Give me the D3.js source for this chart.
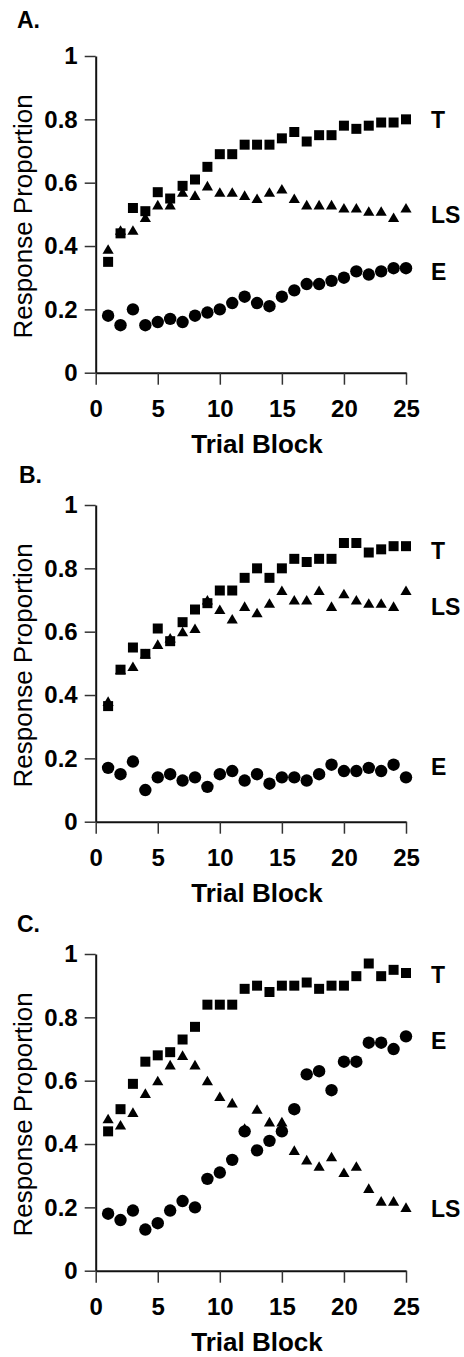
<!DOCTYPE html>
<html>
<head>
<meta charset="utf-8">
<title>Response Proportion by Trial Block</title>
<script src="https://d3js.org/d3.v7.min.js"></script>
<style>
  body { margin: 0; background: #fff; }
  svg { display: block; font-family: "Liberation Sans", Arial, sans-serif; }
</style>
</head>
<body>
<svg width="464" height="1357"></svg>
<script>
// data
const trialBlock = [1,2,3,4,5,6,7,8,9,10,11,12,13,14,15,16,17,18,19,20,21,22,23,24,25];
const xTicks = [0, 5, 10, 15, 20, 25];
const yTicks = [0, 0.2, 0.4, 0.6, 0.8, 1];
const seriesNames = ["T", "LS", "E"];
const panelNames = ["A.", "B.", "C."];

// panel A
const tA  = [0.35,0.44,0.52,0.51,0.57,0.55,0.59,0.61,0.65,0.69,0.69,0.72,0.72,0.72,0.74,0.76,0.73,0.75,0.75,0.78,0.77,0.78,0.79,0.79,0.80];
const lsA = [0.39,0.45,0.45,0.49,0.53,0.53,0.57,0.56,0.59,0.57,0.57,0.56,0.55,0.57,0.58,0.55,0.53,0.53,0.53,0.52,0.52,0.51,0.51,0.49,0.52];
const eA  = [0.18,0.15,0.20,0.15,0.16,0.17,0.16,0.18,0.19,0.20,0.22,0.24,0.22,0.21,0.24,0.26,0.28,0.28,0.29,0.30,0.32,0.31,0.32,0.33,0.33];
const labelPosA = [0.80, 0.50, 0.32];

// panel B
const tB  = [0.365,0.48,0.55,0.53,0.61,0.57,0.63,0.67,0.69,0.73,0.73,0.77,0.80,0.77,0.80,0.83,0.82,0.83,0.83,0.88,0.88,0.85,0.86,0.87,0.87];
const lsB = [0.38,0.48,0.49,0.53,0.56,0.58,0.60,0.61,0.70,0.67,0.64,0.68,0.66,0.69,0.73,0.70,0.70,0.73,0.68,0.72,0.70,0.69,0.69,0.68,0.73];
const eB  = [0.17,0.15,0.19,0.10,0.14,0.15,0.13,0.14,0.11,0.15,0.16,0.13,0.15,0.12,0.14,0.14,0.13,0.15,0.18,0.16,0.16,0.17,0.16,0.18,0.14];
const labelPosB = [0.855, 0.68, 0.174];

// panel C
const tC  = [0.44,0.51,0.59,0.66,0.68,0.69,0.73,0.77,0.84,0.84,0.84,0.89,0.90,0.88,0.90,0.90,0.91,0.89,0.90,0.90,0.93,0.97,0.93,0.95,0.94];
const lsC = [0.48,0.46,0.50,0.56,0.60,0.65,0.68,0.65,0.60,0.55,0.53,0.45,0.51,0.47,0.47,0.38,0.35,0.33,0.36,0.31,0.33,0.26,0.22,0.22,0.20];
const eC  = [0.18,0.16,0.19,0.13,0.15,0.19,0.22,0.20,0.29,0.31,0.35,0.44,0.38,0.41,0.44,0.51,0.62,0.63,0.57,0.66,0.66,0.72,0.72,0.70,0.74];
const labelPosC = [0.934, 0.196, 0.726];

const panels = [
  { name: panelNames[0], series: [tA, lsA, eA], labelPos: labelPosA },
  { name: panelNames[1], series: [tB, lsB, eB], labelPos: labelPosB },
  { name: panelNames[2], series: [tC, lsC, eC], labelPos: labelPosC }
];

// layout
const left = 95.7, right = 406;
const plotH = 316.7;
const panelTops = [56, 505, 954];
const nameBaseline = [-28, -22, -22];

const x = d3.scaleLinear().domain([0, 25]).range([left, right]);

const svg = d3.select("svg");

// marker shapes for T, LS, E
const square = "M-5,-5H5V5H-5Z";
const triangle = "M0,-5L5.6,4.6H-5.6Z";
const circle = d3.symbol(d3.symbolCircle, Math.PI * 6.2 * 6.2)();
const shapes = [square, triangle, circle];

panels.forEach((p, i) => {
  const top = panelTops[i];
  const y = d3.scaleLinear().domain([0, 1]).range([top + plotH, top]);
  const g = svg.append("g");

  // panel letter
  g.append("text")
    .attr("x", i === 1 ? 19 : 17)
    .attr("y", top + nameBaseline[i])
    .attr("font-size", 23)
    .attr("font-weight", "bold")
    .text(p.name);

  // y axis
  const yAxis = g.append("g")
    .attr("transform", `translate(${left},0)`)
    .call(d3.axisLeft(y).tickValues(yTicks).tickFormat(d => String(d))
      .tickSize(11).tickSizeOuter(0).tickPadding(7));

  // x axis
  const xAxis = g.append("g")
    .attr("transform", `translate(0,${top + plotH})`)
    .call(d3.axisBottom(x).tickValues(xTicks).tickFormat(d => String(d))
      .tickSize(12).tickSizeOuter(0).tickPadding(15));

  [yAxis, xAxis].forEach(a => {
    a.select(".domain").attr("stroke", "#111").attr("stroke-width", 2);
    a.selectAll(".tick line").attr("stroke", "#333").attr("stroke-width", 1.5);
    a.selectAll(".tick text")
      .attr("fill", "#000")
      .attr("font-size", 24)
      .attr("font-weight", "bold")
      .attr("font-family", "Liberation Sans, Arial, sans-serif");
  });

  // axis titles
  g.append("text")
    .attr("x", 257)
    .attr("y", top + plotH + 80.5)
    .attr("text-anchor", "middle")
    .attr("font-size", 26)
    .attr("font-weight", "bold")
    .text("Trial Block");

  g.append("text")
    .attr("transform", `translate(32,${top + plotH / 2 + 2}) rotate(-90)`)
    .attr("text-anchor", "middle")
    .attr("font-size", 26)
    .text("Response Proportion");

  // markers: draw LS first, then T, then E
  [1, 0, 2].forEach(k => {
    g.append("g").selectAll("path")
      .data(p.series[k])
      .join("path")
      .attr("d", shapes[k])
      .attr("fill", "#000")
      .attr("transform", (d, j) => `translate(${x(trialBlock[j])},${y(d)})`);
  });

  // series labels
  g.selectAll(".lbl")
    .data(seriesNames)
    .join("text")
    .attr("class", "lbl")
    .attr("x", 431)
    .attr("y", (d, k) => y(p.labelPos[k]))
    .attr("dy", "0.36em")
    .attr("font-size", 23)
    .attr("font-weight", "bold")
    .text(d => d);
});
</script>
</body>
</html>
